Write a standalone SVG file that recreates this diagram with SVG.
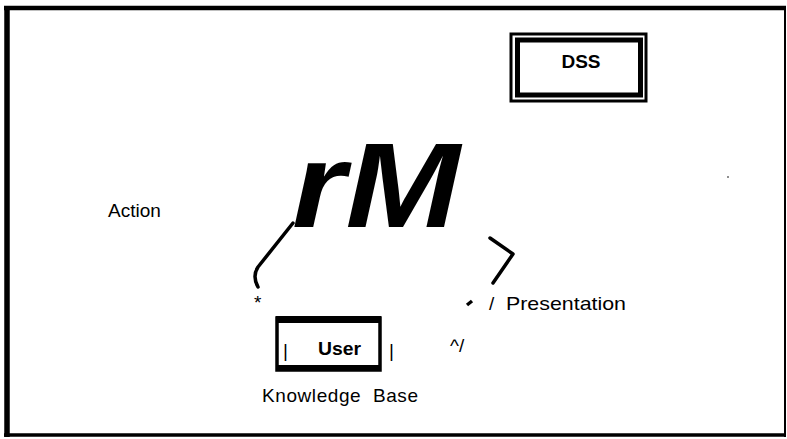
<svg xmlns="http://www.w3.org/2000/svg" width="787" height="439" viewBox="0 0 787 439">
  <style>
    .lbl { font-family: "Liberation Sans", Arial, sans-serif; font-size: 19px; fill: #000; }
    .bold { font-weight: bold; }
    .frame { fill: none; stroke: #000; }
    .conn { fill: none; stroke: #000; stroke-width: 3.5; stroke-linecap: round; stroke-linejoin: round; }
  </style>
  <rect width="787" height="439" fill="#fff"/>

  <!-- outer border -->
  <g id="border">
    <line x1="4" y1="8" x2="786" y2="8" stroke="#000" stroke-width="4.5"/>
    <line x1="7" y1="6" x2="7" y2="437" stroke="#000" stroke-width="5.5"/>
    <line x1="785" y1="6" x2="785" y2="437" stroke="#000" stroke-width="2"/>
    <line x1="4" y1="435" x2="786" y2="435" stroke="#000" stroke-width="3.5"/>
  </g>

  <!-- DSS box: heavy double frame -->
  <g id="node-dss">
    <rect class="frame" x="511" y="34" width="135" height="67" stroke-width="3"/>
    <rect class="frame" x="517.5" y="40" width="123" height="55" stroke-width="5"/>
    <text class="lbl bold" x="581" y="68" text-anchor="middle">DSS</text>
  </g>

  <!-- central glyph, widened -->
  <g id="node-rm">
    <text x="292" y="227" font-family="Liberation Sans, Arial, sans-serif" font-size="121" font-weight="bold" font-style="italic" textLength="168" lengthAdjust="spacingAndGlyphs">rM</text>
  </g>

  <g id="label-action">
    <text class="lbl" x="108" y="217">Action</text>
  </g>

  <!-- User knowledge base box -->
  <g id="node-user">
    <rect class="frame" x="277" y="318" width="103" height="52" stroke-width="3.5"/>
    <rect x="276" y="316" width="105" height="7" fill="#000"/>
    <rect x="276" y="365" width="105" height="6" fill="#000"/>
    <text class="lbl" x="283" y="357">|</text>
    <text class="lbl bold" x="318" y="355" textLength="43" lengthAdjust="spacingAndGlyphs">User</text>
    <text class="lbl" x="389" y="357">|</text>
  </g>

  <g id="label-kb">
    <text class="lbl" x="262" y="402" textLength="156" lengthAdjust="spacing" xml:space="preserve">Knowledge  Base</text>
  </g>

  <g id="label-presentation">
    <text class="lbl" x="489" y="310">/</text>
    <text class="lbl" x="506" y="310" textLength="120" lengthAdjust="spacingAndGlyphs">Presentation</text>
  </g>

  <g id="label-marks">
    <text class="lbl" x="254" y="309" font-size="14">*</text>
    <text class="lbl" x="450" y="352">^/</text>
    <line x1="467" y1="305" x2="472" y2="301" stroke="#000" stroke-width="3.5"/>
    <circle cx="728" cy="177" r="0.8" fill="#000"/>
  </g>

  <!-- connectors -->
  <g id="connectors">
    <path class="conn" d="M293,223 L258,267 Q252,276 258,287"/>
    <path class="conn" d="M490,238 L513,254 L493,283"/>
  </g>
</svg>
